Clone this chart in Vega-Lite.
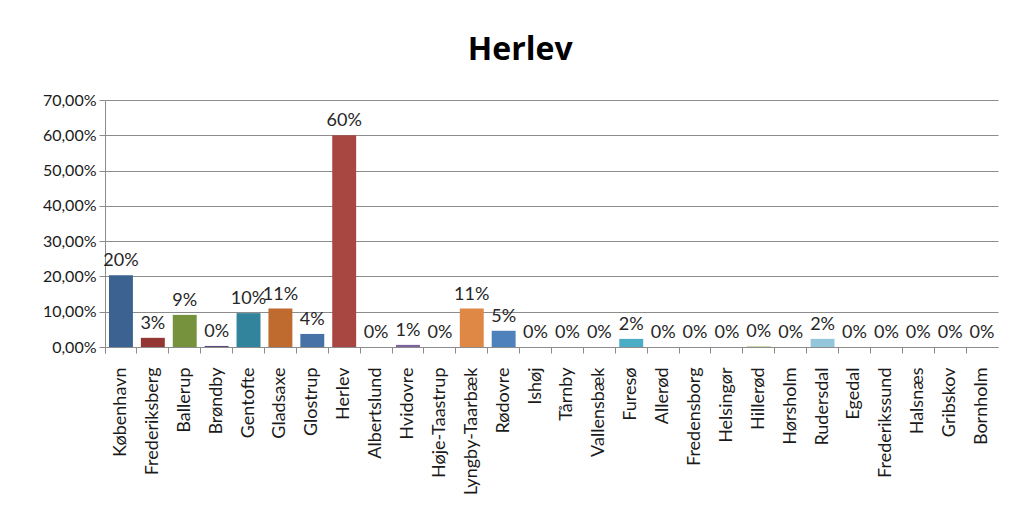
{
  "$schema": "https://vega.github.io/schema/vega-lite/v6.json",
  "width": 893,
  "height": 247,
  "padding": {"left": 42, "top": 34, "right": 20, "bottom": 5},
  "background": "white",
  "config": {
    "locale": {"number": {"decimal": ",", "thousands": ".", "grouping": [3], "currency": ["", " kr."]}},
    "view": {"stroke": null},
    "font": "Lato"
  },
  "title": {
    "text": "Herlev",
    "font": "Open Sans",
    "fontSize": 32,
    "fontWeight": "bold",
    "color": "#000000",
    "anchor": "middle",
    "frame": "bounds",
    "offset": 25
  },
  "data": {
    "values": [
      {"kommune": "København", "andel": 0.203},
      {"kommune": "Frederiksberg", "andel": 0.026},
      {"kommune": "Ballerup", "andel": 0.091},
      {"kommune": "Brøndby", "andel": 0.003},
      {"kommune": "Gentofte", "andel": 0.096},
      {"kommune": "Gladsaxe", "andel": 0.109},
      {"kommune": "Glostrup", "andel": 0.037},
      {"kommune": "Herlev", "andel": 0.60},
      {"kommune": "Albertslund", "andel": 0.0},
      {"kommune": "Hvidovre", "andel": 0.006},
      {"kommune": "Høje-Taastrup", "andel": 0.0},
      {"kommune": "Lyngby-Taarbæk", "andel": 0.109},
      {"kommune": "Rødovre", "andel": 0.046},
      {"kommune": "Ishøj", "andel": 0.0},
      {"kommune": "Tårnby", "andel": 0.0},
      {"kommune": "Vallensbæk", "andel": 0.0},
      {"kommune": "Furesø", "andel": 0.023},
      {"kommune": "Allerød", "andel": 0.0},
      {"kommune": "Fredensborg", "andel": 0.0},
      {"kommune": "Helsingør", "andel": 0.0},
      {"kommune": "Hillerød", "andel": 0.002},
      {"kommune": "Hørsholm", "andel": 0.0},
      {"kommune": "Rudersdal", "andel": 0.023},
      {"kommune": "Egedal", "andel": 0.0},
      {"kommune": "Frederikssund", "andel": 0.0},
      {"kommune": "Halsnæs", "andel": 0.0},
      {"kommune": "Gribskov", "andel": 0.0},
      {"kommune": "Bornholm", "andel": 0.0}
    ]
  },
  "encoding": {
    "x": {
      "field": "kommune",
      "type": "nominal",
      "sort": null,
      "title": null,
      "scale": {"paddingInner": 0, "paddingOuter": 0},
      "axis": {
        "labelAngle": 270,
        "labelAlign": "right",
        "labelBaseline": "middle",
        "labelFontSize": 18,
        "labelColor": "#1a1a1a",
        "labelPadding": 14,
        "labelOverlap": false,
        "labelLimit": 250,
        "bandPosition": 0,
        "tickExtra": true,
        "tickSize": 6,
        "tickColor": "#8c8c8c",
        "domainColor": "#8c8c8c",
        "grid": false
      }
    },
    "y": {
      "field": "andel",
      "type": "quantitative",
      "title": null,
      "scale": {"domain": [0, 0.7], "nice": false},
      "axis": {
        "values": [0, 0.1, 0.2, 0.3, 0.4, 0.5, 0.6, 0.7],
        "format": ".2%",
        "labelFontSize": 16,
        "labelColor": "#1a1a1a",
        "labelPadding": 3,
        "tickSize": 6,
        "tickColor": "#8c8c8c",
        "domainColor": "#8c8c8c",
        "gridColor": "#8c8c8c",
        "gridWidth": 1
      }
    }
  },
  "layer": [
    {
      "mark": {"type": "bar", "width": {"band": 0.75}},
      "encoding": {
        "color": {
          "field": "kommune",
          "type": "nominal",
          "legend": null,
          "scale": {
            "domain": ["København", "Frederiksberg", "Ballerup", "Brøndby", "Gentofte", "Gladsaxe", "Glostrup", "Herlev", "Albertslund", "Hvidovre", "Høje-Taastrup", "Lyngby-Taarbæk", "Rødovre", "Ishøj", "Tårnby", "Vallensbæk", "Furesø", "Allerød", "Fredensborg", "Helsingør", "Hillerød", "Hørsholm", "Rudersdal", "Egedal", "Frederikssund", "Halsnæs", "Gribskov", "Bornholm"],
            "range": ["#3B6291", "#943634", "#76923C", "#5F497A", "#31849B", "#BF6A2F", "#4672A8", "#A84642", "#8AAA4E", "#7B63A0", "#3FA1BD", "#DF8744", "#4F81BD", "#C0504D", "#9BBB59", "#8064A2", "#4BACC6", "#F79646", "#7F9FCF", "#D37F7D", "#B3CB89", "#A08CBA", "#93C6DB", "#F9B17A", "#A7BFE0", "#E0A8A7", "#CBDCAE", "#BFB1D2"]
          }
        }
      }
    },
    {
      "mark": {"type": "text", "baseline": "bottom", "dy": -5, "fontSize": 18, "color": "#262626"},
      "encoding": {
        "text": {"field": "andel", "type": "quantitative", "format": ".0%"}
      }
    }
  ]
}
